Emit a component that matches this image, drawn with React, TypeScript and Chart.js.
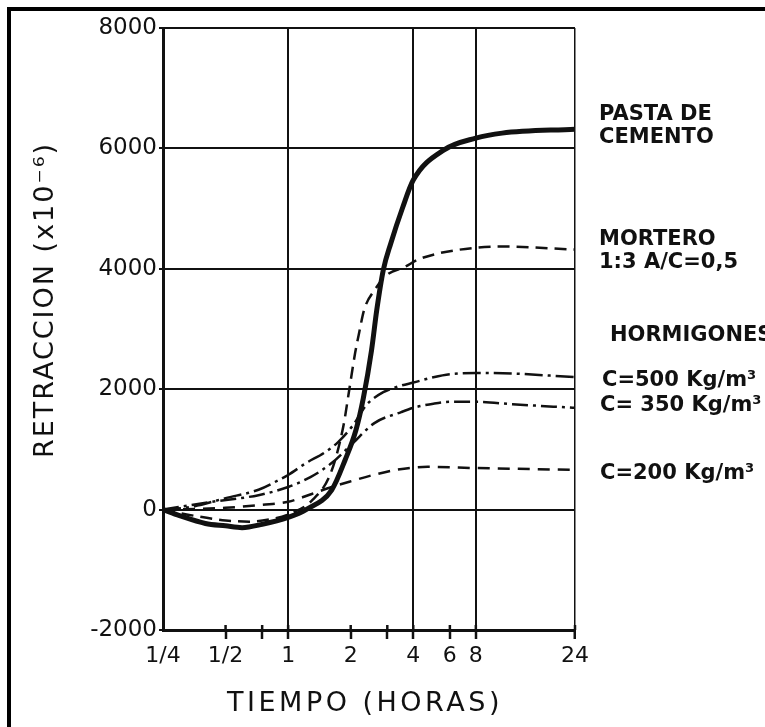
import React, { useEffect, useRef } from "react";
import { Chart, registerables } from "chart.js";

Chart.register(...registerables);

// ---- axis definitions ----
const X_TICK_HOURS = [0.25, 0.5, 0.75, 1, 2, 3, 4, 6, 8, 24];
const X_TICK_LABELS = ["1/4", "1/2", "", "1", "2", "", "4", "6", "8", "24"];
const X_GRID_HOURS = [1, 4, 8, 24];
const Y_TICKS = [-2000, 0, 2000, 4000, 6000, 8000];

const X_TITLE = "TIEMPO (HORAS)";
const Y_TITLE = "RETRACCION (x10\u207B\u2076)";

// ---- series (hours, retracción x10^-6) ----
const pastaHours = [0.25, 0.3, 0.4, 0.5, 0.6, 0.75, 1, 1.22, 1.62, 1.88, 2.12, 2.3, 2.52, 2.67, 2.87, 3.12, 3.56, 4, 5.6, 8, 10.7, 24];
const pastaValues = [0, -100, -230, -270, -300, -245, -130, 0, 325, 824, 1322, 1850, 2650, 3317, 3980, 4425, 5023, 5474, 5972, 6171, 6254, 6320];

const morteroHours = [0.25, 0.35, 0.5, 0.65, 0.85, 1, 1.3, 1.6, 1.84, 1.97, 2.1, 2.2, 2.32, 2.61, 2.99, 3.64, 4.2, 5.2, 8, 10.7, 24];
const morteroValues = [0, -100, -180, -200, -150, -80, 150, 600, 1370, 2000, 2600, 2950, 3317, 3650, 3900, 4030, 4150, 4250, 4350, 4370, 4320];

const c500Hours = [0.25, 0.34, 0.5, 0.72, 0.9, 1.0, 1.22, 1.5, 1.74, 2.05, 2.38, 2.87, 3.5, 4, 5, 6, 8, 12, 24];
const c500Values = [0, 43, 190, 330, 490, 575, 773, 950, 1122, 1400, 1737, 1950, 2060, 2110, 2200, 2250, 2270, 2260, 2200];

const c350Hours = [0.25, 0.42, 0.72, 1.0, 1.28, 1.62, 2.05, 2.6, 3.5, 4, 5, 6, 8, 12, 24];
const c350Values = [0, 125, 240, 375, 540, 773, 1105, 1437, 1620, 1690, 1760, 1790, 1790, 1750, 1690];

const c200Hours = [0.25, 0.5, 0.75, 1.0, 1.3, 1.62, 2.05, 2.6, 3.3, 4.7, 8, 24];
const c200Values = [0, 30, 80, 130, 260, 375, 480, 580, 660, 710, 690, 660];

// ---- right-hand labels ----
const LABEL_TEXTS = [
  "PASTA DE",
  "CEMENTO",
  "MORTERO",
  "1:3 A/C=0,5",
  "HORMIGONES",
  "C=500 Kg/m\u00B3",
  "C= 350 Kg/m\u00B3",
  "C=200 Kg/m\u00B3",
];
const LABEL_X = [599, 599, 599, 599, 610, 602, 600, 600];
const LABEL_Y = [115, 138, 240, 263, 336, 381, 406, 474];

const INK = "#111";

function pts(h: number[], v: number[]) {
  return h.map((x, i) => ({ x, y: v[i] }));
}

const overlayPlugin = {
  id: "overlay",
  afterDraw(chart: any) {
    const ctx: CanvasRenderingContext2D = chart.ctx;
    const xs = chart.scales.x;
    const area = chart.chartArea;
    ctx.save();
    // tick marks crossing above the time axis
    ctx.strokeStyle = INK;
    ctx.lineWidth = 2.5;
    X_TICK_HOURS.forEach((h) => {
      if (h === 0.25) return;
      const px = xs.getPixelForValue(h);
      ctx.beginPath();
      ctx.moveTo(px, area.bottom);
      ctx.lineTo(px, area.bottom - 5);
      ctx.stroke();
    });
    // axis titles
    ctx.fillStyle = INK;
    ctx.font = '27px "DejaVu Sans"';
    (ctx as any).letterSpacing = "3.5px";
    ctx.textAlign = "center";
    ctx.textBaseline = "middle";
    ctx.fillText(X_TITLE, 365, 704);
    ctx.save();
    ctx.translate(46, 300);
    ctx.rotate(-Math.PI / 2);
    (ctx as any).letterSpacing = "2px";
    ctx.fillText(Y_TITLE, 0, 0);
    ctx.restore();
    // series labels
    (ctx as any).letterSpacing = "0px";
    ctx.font = 'bold 21px "DejaVu Sans"';
    ctx.textAlign = "left";
    LABEL_TEXTS.forEach((t, i) => ctx.fillText(t, LABEL_X[i], LABEL_Y[i]));
    ctx.restore();
  },
};

export default function App() {
  const ref = useRef<HTMLCanvasElement>(null);

  useEffect(() => {
    if (!ref.current) return;
    const common = {
      pointRadius: 0,
      borderColor: INK,
      fill: false,
      cubicInterpolationMode: "monotone" as const,
    };
    const chart = new Chart(ref.current, {
      type: "line",
      data: {
        datasets: [
          { ...common, label: "PASTA DE CEMENTO", data: pts(pastaHours, pastaValues), borderWidth: 5 },
          { ...common, label: "MORTERO 1:3 A/C=0,5", data: pts(morteroHours, morteroValues), borderWidth: 2.5, borderDash: [12, 7] },
          { ...common, label: "C=500 Kg/m³", data: pts(c500Hours, c500Values), borderWidth: 2.5, borderDash: [18, 5, 3, 5] },
          { ...common, label: "C=350 Kg/m³", data: pts(c350Hours, c350Values), borderWidth: 2.5, borderDash: [16, 5, 3, 5] },
          { ...common, label: "C=200 Kg/m³", data: pts(c200Hours, c200Values), borderWidth: 2.5, borderDash: [12, 8] },
        ],
      },
      options: {
        responsive: false,
        animation: false,
        devicePixelRatio: 1,
        layout: { padding: { top: 28, right: 190, left: 0, bottom: 0 } },
        plugins: { legend: { display: false }, tooltip: { enabled: false } },
        scales: {
          x: {
            type: "logarithmic",
            min: 0.25,
            max: 24,
            afterBuildTicks: (s: any) => {
              s.ticks = X_TICK_HOURS.map((v) => ({ value: v }));
            },
            afterFit: (s: any) => {
              s.height = 97;
            },
            ticks: {
              autoSkip: false,
              maxRotation: 0,
              minRotation: 0,
              padding: 4,
              color: INK,
              font: { family: "DejaVu Sans", size: 22 },
              callback: (_v: any, i: number) => X_TICK_LABELS[i] ?? "",
            },
            grid: {
              color: (c: any) => (X_GRID_HOURS.includes(c.tick?.value) ? INK : "rgba(0,0,0,0)"),
              lineWidth: (c: any) => (c.tick?.value === 24 ? 1.5 : 2),
              tickColor: (c: any) => (c.tick?.value === 0.25 ? "rgba(0,0,0,0)" : INK),
              tickWidth: 2.5,
              tickLength: 9,
            },
            border: { color: INK, width: 3 },
          },
          y: {
            type: "linear",
            min: -2000,
            max: 8000,
            afterBuildTicks: (s: any) => {
              s.ticks = Y_TICKS.map((v) => ({ value: v }));
            },
            afterFit: (s: any) => {
              s.width = 163;
            },
            ticks: {
              color: INK,
              padding: 2,
              font: { family: "DejaVu Sans", size: 23 },
              callback: (v: any) => String(v),
            },
            grid: { color: INK, lineWidth: 2, tickLength: 4 },
            border: { color: INK, width: 3 },
          },
        },
      },
      plugins: [overlayPlugin],
    } as any);
    return () => chart.destroy();
  }, []);

  return (
    <div style={{ position: "fixed", left: 0, top: 0, width: 765, height: 727, background: "#fff", overflow: "hidden" }}>
      <div
        style={{
          position: "absolute",
          left: 7,
          top: 7,
          width: 800,
          height: 800,
          borderLeft: "4px solid #000",
          borderTop: "4px solid #000",
        }}
      />
      <canvas ref={ref} width={765} height={727} style={{ position: "absolute", left: 0, top: 0, width: 765, height: 727 }} />
    </div>
  );
}
